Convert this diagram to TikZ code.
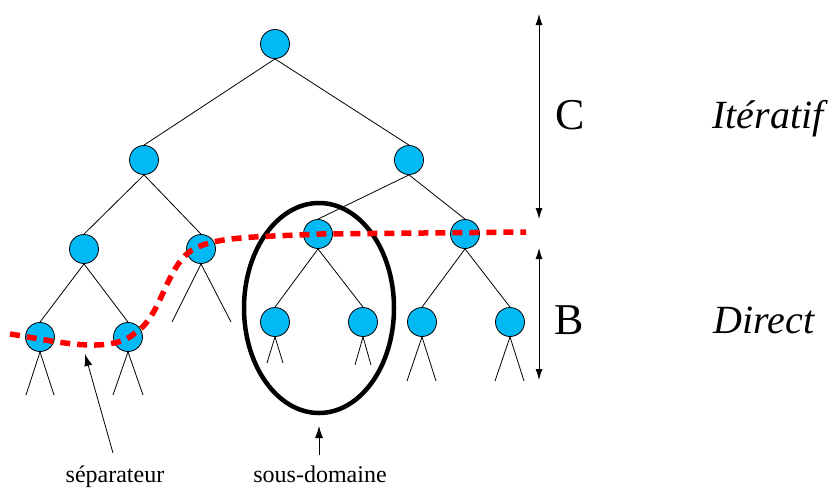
\documentclass[tikz,border=0pt]{standalone}
\usepackage{fontspec}
\setmainfont{Liberation Serif}
\usetikzlibrary{arrows.meta}
\definecolor{nodeblue}{RGB}{0,185,245}
\tikzset{
  tnode/.style={circle,draw=black,fill=nodeblue,line width=0.8pt,minimum size=29pt,inner sep=0pt},
  tedge/.style={draw=black,line width=0.8pt},
  sepline/.style={draw=red,line width=5.5pt,dash pattern=on 10pt off 7pt},
  subdom/.style={draw=black,line width=4.5pt},
  dimarrow/.style={draw=black,line width=0.8pt,{Latex[length=11pt,width=7pt]}-{Latex[length=11pt,width=7pt]}},
  ptrarrow/.style={draw=black,line width=0.8pt,-{Latex[length=12pt,width=8pt]}},
  bigletter/.style={font=\fontsize{44}{48}\selectfont,anchor=base,inner sep=0pt},
  biglabel/.style={font=\fontsize{40}{44}\selectfont\itshape,anchor=base,inner sep=0pt},
  smalllabel/.style={font=\fontsize{24}{28}\selectfont,anchor=base,inner sep=0pt}
}
\begin{document}
\begin{tikzpicture}[x=1pt,y=-1pt]
\useasboundingbox (0,0) rectangle (834,488);
% nodes
\node[tnode] (r) at (275,44) {};
\node[tnode] (a) at (144,160) {};
\node[tnode] (b) at (409,160) {};
\node[tnode] (c) at (84,249) {};
\node[tnode] (d) at (201,249) {};
\node[tnode] (e) at (318,234) {};
\node[tnode] (f) at (465,234) {};
\node[tnode] (g) at (40,337) {};
\node[tnode] (h) at (128,337) {};
\node[tnode] (i) at (275,322) {};
\node[tnode] (j) at (363,322) {};
\node[tnode] (k) at (422,322) {};
\node[tnode] (l) at (510,322) {};
% leg ends
\coordinate (d1) at (172,322); \coordinate (d2) at (231,322);
\coordinate (g1) at (26,395);  \coordinate (g2) at (54,395);
\coordinate (h1) at (113,395); \coordinate (h2) at (143,395);
\coordinate (i1) at (267,363); \coordinate (i2) at (283,363);
\coordinate (j1) at (355,365); \coordinate (j2) at (371,365);
\coordinate (k1) at (407,381); \coordinate (k2) at (436,381);
\coordinate (l1) at (495,381); \coordinate (l2) at (524,381);
% edges
\foreach \p/\q in {r/a,r/b,a/c,a/d,b/e,b/f,c/g,c/h,e/i,e/j,f/k,f/l}
  \draw[tedge] (\p.south) -- (\q.north);
\foreach \p in {d,g,h,i,j,k,l}{
  \draw[tedge] (\p.south) -- (\p1);
  \draw[tedge] (\p.south) -- (\p2);
}
% sub-domain ellipse
\draw[subdom] (319,308) ellipse [x radius=75, y radius=105];
% separator
\coordinate (s0) at (10,334);
\coordinate (s1) at (135,333);
\coordinate (s2) at (192,250);
\coordinate (s3) at (320,234);
\coordinate (s4) at (526,232);
\draw[sepline] (s0) .. controls (50,340) and (110,356) .. (s1)
  .. controls (162,316) and (165,268) .. (s2)
  .. controls (215,236) and (260,237) .. (s3) -- (s4);
% dimension arrows
\coordinate (ct) at (539,14); \coordinate (cb) at (539,219);
\coordinate (bt) at (539,248); \coordinate (bb) at (539,380);
\draw[dimarrow] (ct) -- (cb);
\draw[dimarrow] (bt) -- (bb);
\node[bigletter] (lc) at (570,129) {C};
\node[bigletter] (lb) at (569,334) {B};
\node[biglabel] (it) at (768,128) {Itératif};
\node[biglabel] (di) at (764,333) {Direct};
% labels
\node[smalllabel] (sep) at (115,482) {séparateur};
\node[smalllabel] (sd) at (320,482) {sous-domaine};
\coordinate (septail) at (113,453);
\coordinate (septip) at (85,354);
\coordinate (sdtail) at (319,455);
\coordinate (sdtip) at (319,426);
\draw[ptrarrow] (septail) -- (septip);
\draw[ptrarrow] (sdtail) -- (sdtip);
\end{tikzpicture}
\end{document}
